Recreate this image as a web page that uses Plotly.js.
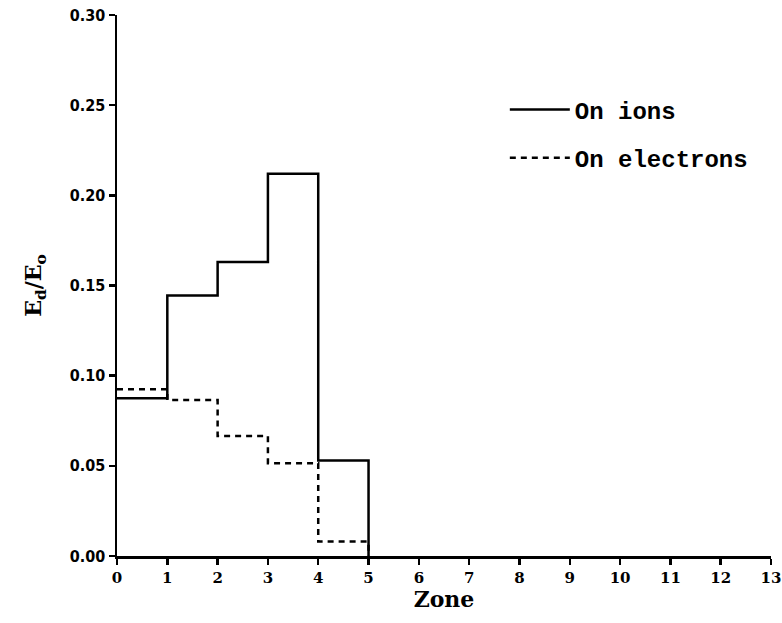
<!DOCTYPE html>
<html>
<head>
<meta charset="utf-8">
<script src="https://cdn.plot.ly/plotly-3.0.1.min.js"></script>
<style>
  html, body { margin: 0; padding: 0; background: #fff; }
  #chart { width: 782px; height: 623px; }
</style>
</head>
<body>
<div id="chart"></div>
<script>
// Zone boundaries and energy fraction deposited per zone
const zoneEdges = [0, 1, 2, 3, 4, 5];
const onIons = [0.0875, 0.1445, 0.163, 0.212, 0.053, 0];
const onElectrons = [0.0925, 0.0865, 0.0665, 0.0515, 0.008, 0];

const xTickVals = [0, 1, 2, 3, 4, 5, 6, 7, 8, 9, 10, 11, 12, 13];
const yTickVals = [0, 0.05, 0.10, 0.15, 0.20, 0.25, 0.30];
const yTickText = ['0.00', '0.05', '0.10', '0.15', '0.20', '0.25', '0.30'];

const traces = [
  {
    x: zoneEdges, y: onIons, name: 'On ions', legendgroup: 'ions',
    mode: 'lines', line: { shape: 'hv', color: '#000', width: 2.5 }
  },
  {
    x: zoneEdges, y: onElectrons, name: 'On electrons', legendgroup: 'electrons',
    mode: 'lines', line: { shape: 'hv', color: '#000', width: 2.5, dash: '6px,5px' }
  }
];

const tickFont = { family: 'Liberation Sans Narrow, DejaVu Sans Condensed, sans-serif', size: 16, color: '#000', weight: 700 };
const xTickFont = { family: 'DejaVu Serif, serif', size: 15, color: '#000', weight: 700 };

const layout = {
  width: 782, height: 623,
  margin: { l: 117, r: 11, t: 15, b: 67 },
  paper_bgcolor: '#fff', plot_bgcolor: '#fff',
  showlegend: true,
  legend: {
    x: 0.593, y: 0.866, xanchor: 'left', yanchor: 'top',
    font: { family: 'Liberation Mono, DejaVu Sans Mono, monospace', size: 24, color: '#000', weight: 700 },
    traceorder: 'grouped', tracegroupgap: 14, itemwidth: 60, bgcolor: 'rgba(0,0,0,0)'
  },
  xaxis: {
    range: [0, 13], tickvals: xTickVals,
    showline: true, linecolor: '#000', linewidth: 2.5,
    ticks: 'outside', ticklen: 6, tickwidth: 2.5, tickcolor: '#000',
    showgrid: false, zeroline: false, tickfont: xTickFont,
    title: { text: 'Zone', font: { family: 'DejaVu Serif, serif', size: 22, color: '#000', weight: 700 }, standoff: 2 }
  },
  yaxis: {
    range: [0, 0.30], tickvals: yTickVals, ticktext: yTickText,
    showline: true, linecolor: '#000', linewidth: 2.5,
    ticks: 'outside', ticklen: 6, tickwidth: 2.5, tickcolor: '#000',
    showgrid: false, zeroline: false, tickfont: tickFont,
    title: { text: 'E<sub>d</sub>/E<sub>o</sub>', font: { family: 'DejaVu Serif, serif', size: 22, color: '#000', weight: 700 }, standoff: 22 }
  }
};

Plotly.newPlot('chart', traces, layout, { displayModeBar: false, staticPlot: true });
</script>
</body>
</html>
